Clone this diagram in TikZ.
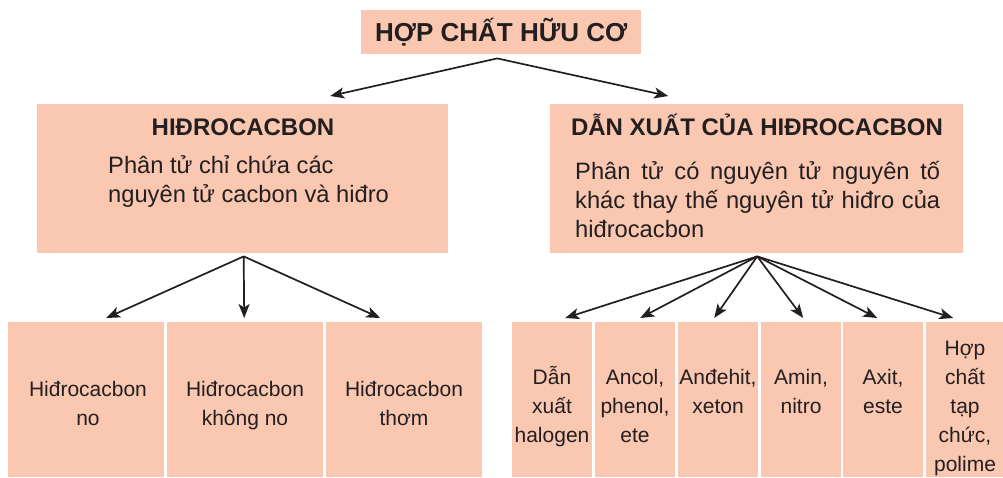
\documentclass[tikz,border=0pt]{standalone}
\usepackage{fontspec}
\setmainfont{Liberation Sans}
\usetikzlibrary{arrows.meta,calc}
\definecolor{boxfill}{RGB}{250,199,177}
\definecolor{ink}{RGB}{35,31,32}
\begin{document}
\begin{tikzpicture}[x=1pt,y=-1pt,
  box/.style={fill=boxfill, draw=none, inner sep=0pt, anchor=north west},
  conn/.style={draw=ink, line width=1.7pt, -{Stealth[length=14pt,width=11pt,inset=3.5pt]}},
  titletext/.style={text=ink, font=\fontsize{26}{30}\selectfont\bfseries},
  headtext/.style={text=ink, font=\fontsize{24}{29}\selectfont\bfseries, anchor=base},
  bodytext/.style={text=ink, font=\fontsize{23.7}{29}\selectfont, anchor=base west, inner sep=0pt},
  leaftext/.style={text=ink, font=\fontsize{21}{29}\selectfont, align=center, anchor=base, inner sep=0pt}]
\useasboundingbox (0,0) rectangle (1003,477);
% top
\node[box, minimum width=280pt, minimum height=44pt, titletext] (top) at (361,10) {HỢP CHẤT HỮU CƠ};
% middle boxes
\node[box, minimum width=411pt, minimum height=149pt] (hbox) at (37,104) {};
\node[box, minimum width=413pt, minimum height=149pt] (dbox) at (550,104) {};
\node[headtext] (htitle) at (243,135) {HIĐROCACBON};
% multi-line nodes without text width: base = last line
\node[bodytext, align=left] (hbody) at (108,202) {Phân tử chỉ chứa các\\nguyên tử cacbon và hiđro};
\node[headtext] (dtitle) at (757,135) {DẪN XUẤT CỦA HIĐROCACBON};
\node[bodytext, text width=365pt, align=justify] (dbody) at (575,179) {Phân tử có nguyên tử nguyên tố khác thay thế nguyên tử hiđro của hiđrocacbon};
% bottom left boxes
\node[box, minimum width=156pt, minimum height=155pt] (b1) at (8,322) {};
\node[box, minimum width=156pt, minimum height=155pt] (b2) at (167,322) {};
\node[box, minimum width=156pt, minimum height=155pt] (b3) at (326,322) {};
\node[leaftext] (t1) at (88,425) {Hiđrocacbon\\no};
\node[leaftext] (t2) at (245,425) {Hiđrocacbon\\không no};
\node[leaftext] (t3) at (404,425) {Hiđrocacbon\\thơm};
% bottom right boxes
\node[box, minimum width=80pt, minimum height=155pt] (r1) at (512,322) {};
\node[box, minimum width=80pt, minimum height=155pt] (r2) at (595,322) {};
\node[box, minimum width=80pt, minimum height=155pt] (r3) at (678,322) {};
\node[box, minimum width=80pt, minimum height=155pt] (r4) at (761,322) {};
\node[box, minimum width=80pt, minimum height=155pt] (r5) at (843,322) {};
\node[box, minimum width=77pt, minimum height=155pt] (r6) at (926,322) {};
\node[leaftext] (u1) at (552,442) {Dẫn\\xuất\\halogen};
\node[leaftext] (u2) at (635,442) {Ancol,\\phenol,\\ete};
\node[leaftext] (u3) at (718,413) {Anđehit,\\xeton};
\node[leaftext] (u4) at (801,413) {Amin,\\nitro};
\node[leaftext] (u5) at (883,413) {Axit,\\este};
\node[leaftext] (u6) at (965,471) {Hợp\\chất\\tạp\\chức,\\polime};
% connectors
\coordinate (ts) at ($(top.south)+(-4,4)$);
\draw[conn] (ts) -- ($(hbox.north)+(87.5,-8)$);
\draw[conn] (ts) -- ($(dbox.north)+(-88.5,-8)$);
\coordinate (hs) at ($(hbox.south)+(1,3)$);
\draw[conn] (hs) -- ($(b1.north)+(20,-4)$);
\draw[conn] (hs) -- ($(b2.north)+(-1,-4)$);
\draw[conn] (hs) -- ($(b3.north)+(-24,-4)$);
\coordinate (ds) at ($(dbox.south)+(0.5,3)$);
\draw[conn] (ds) -- ($(r1.north)+(13,-4)$);
\draw[conn] (ds) -- ($(r2.north)+(5,-4)$);
\draw[conn] (ds) -- ($(r3.north)+(-4,-4)$);
\draw[conn] (ds) -- ($(r4.north)+(2,-4)$);
\draw[conn] (ds) -- ($(r5.north)+(-6,-4)$);
\draw[conn] (ds) -- ($(r6.north)+(-11.5,-4)$);
\end{tikzpicture}
\end{document}
